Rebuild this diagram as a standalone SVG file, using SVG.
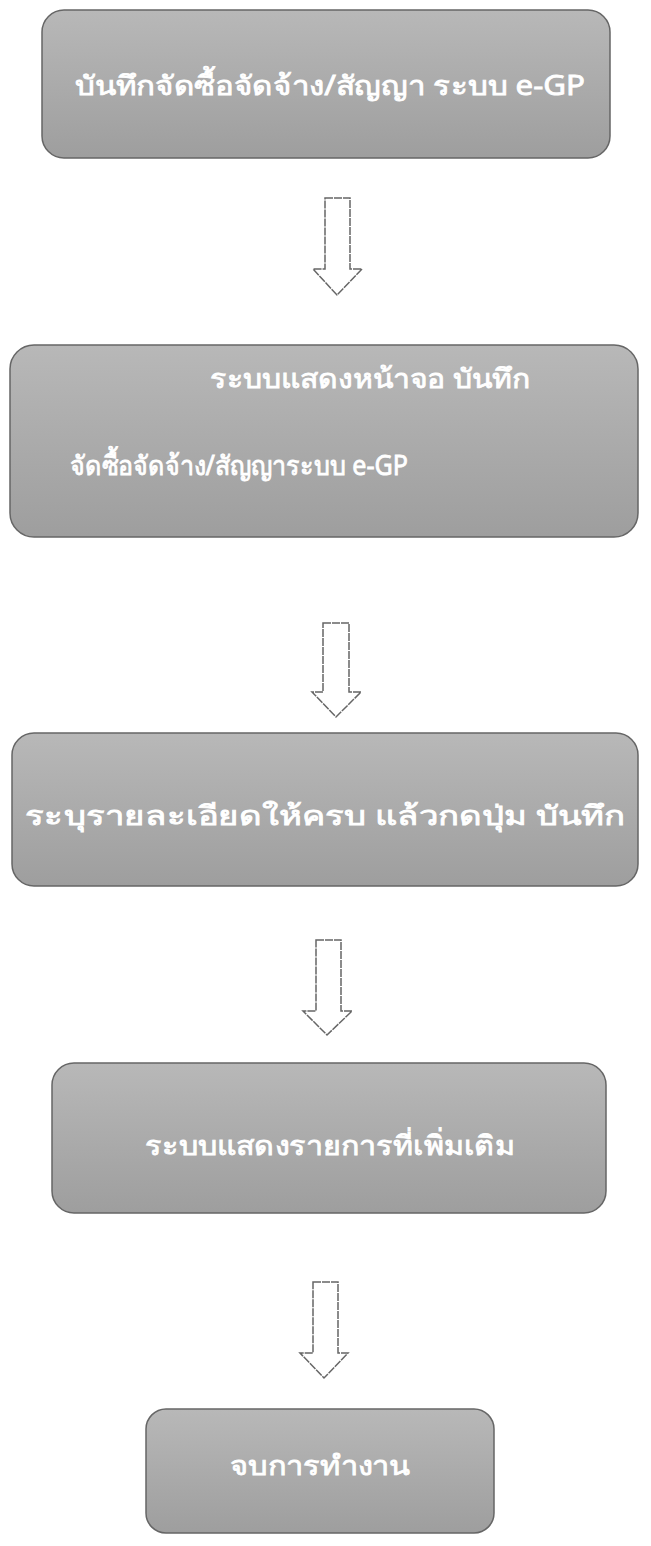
<svg xmlns="http://www.w3.org/2000/svg" width="651" height="1546" viewBox="0 0 651 1546">
<style>
.box{fill:url(#g);stroke:#666;stroke-width:1.5}
.t{font-family:"Noto Sans","Liberation Sans",sans-serif;font-size:27px;fill:#fff;stroke:#fff;stroke-width:0.8;text-anchor:middle}
.ar{fill:#fff;stroke:#666;stroke-width:1.5;stroke-dasharray:8 1}
</style>
<defs>
<linearGradient id="g" x1="0" y1="0" x2="0" y2="1">
<stop offset="0" stop-color="#b8b8b8"/>
<stop offset="1" stop-color="#9e9e9e"/>
</linearGradient>
</defs>
<rect width="651" height="1546" fill="#fff"/>
<g id="n1"><rect class="box" x="42" y="10" width="568" height="148" rx="22"/>
<text class="t" x="330" y="95" textLength="510" lengthAdjust="spacingAndGlyphs">บันทึกจัดซื้อจัดจ้าง/สัญญา ระบบ e-GP</text></g>
<g id="n2"><rect class="box" x="10" y="345" width="628" height="192" rx="24"/>
<text class="t" x="370" y="388" textLength="320" lengthAdjust="spacingAndGlyphs">ระบบแสดงหน้าจอ บันทึก</text>
<text class="t" x="239" y="475" textLength="338" lengthAdjust="spacingAndGlyphs">จัดซื้อจัดจ้าง/สัญญาระบบ e-GP</text></g>
<g id="n3"><rect class="box" x="12" y="733" width="626" height="153" rx="22"/>
<text class="t" x="325" y="825" textLength="600" lengthAdjust="spacingAndGlyphs">ระบุรายละเอียดให้ครบ แล้วกดปุ่ม บันทึก</text></g>
<g id="n4"><rect class="box" x="52" y="1063" width="554" height="150" rx="22"/>
<text class="t" x="330" y="1155" textLength="370" lengthAdjust="spacingAndGlyphs">ระบบแสดงรายการที่เพิ่มเติม</text></g>
<g id="n5"><rect class="box" x="146" y="1409" width="348" height="124" rx="20"/>
<text class="t" x="320" y="1475" textLength="180" lengthAdjust="spacingAndGlyphs">จบการทำงาน</text></g>
<g id="connectors">
<path class="ar" d="M325,198 H350 V269 H362 L337,295 L313,269 H325 Z"/>
<path class="ar" d="M323,623 H349 V692 H361 L336,717 L312,692 H323 Z"/>
<path class="ar" d="M316,940 H341 V1011 H352 L327,1035 L303,1011 H316 Z"/>
<path class="ar" d="M313,1282 H338 V1353 H348 L324,1378 L300,1353 H313 Z"/>
</g>
</svg>
